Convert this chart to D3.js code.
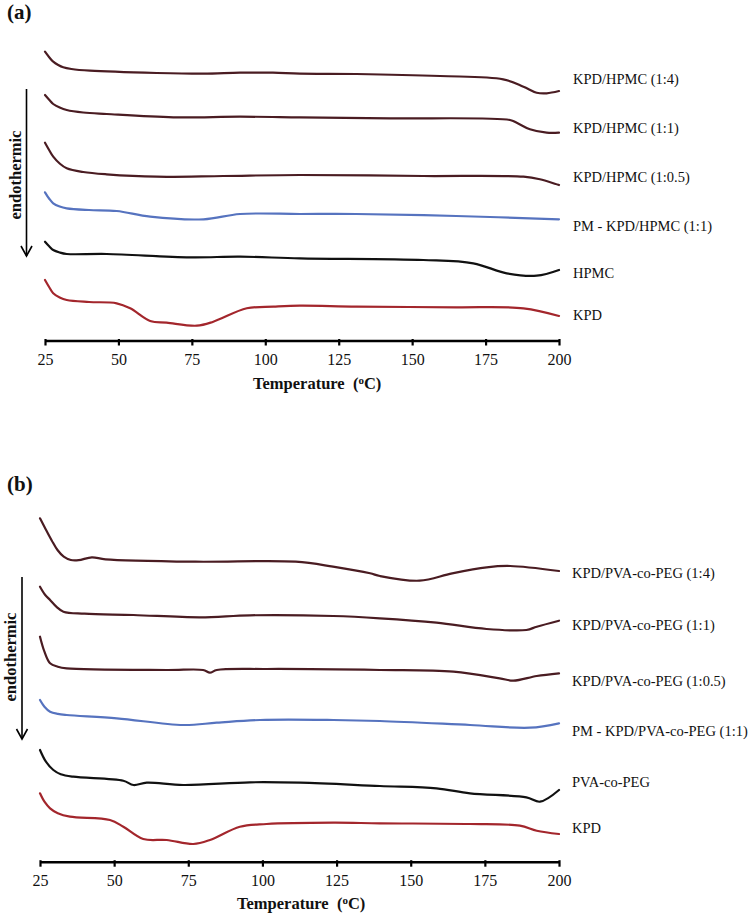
<!DOCTYPE html>
<html><head><meta charset="utf-8">
<script src="https://cdn.jsdelivr.net/npm/d3@7"></script>
<style>body{margin:0;background:#fff}svg{display:block}</style>
</head><body>
<svg id="c" width="750" height="916"></svg>
<script>
// ---------- data ----------
const xTicks = [25, 50, 75, 100, 125, 150, 175, 200];
const seriesColors = ["#4a1c22", "#4a1c22", "#4a1c22", "#5673bf", "#111111", "#a3262c"];

const labelsA = ["KPD/HPMC (1:4)", "KPD/HPMC (1:1)", "KPD/HPMC (1:0.5)", "PM - KPD/HPMC (1:1)", "HPMC", "KPD"];
const labelsB = ["KPD/PVA-co-PEG (1:4)", "KPD/PVA-co-PEG (1:1)", "KPD/PVA-co-PEG (1:0.5)", "PM - KPD/PVA-co-PEG (1:1)", "PVA-co-PEG", "KPD"];
// heat flow (arbitrary units, offset traces) at which each label sits
const labelLevelA = [261.5, 212.5, 163.5, 114.5, 67.5, 25.5];
const labelLevelB = [288.7, 236.7, 180.7, 130.7, 79.7, 33.7];

// Panel (a): [temperature °C, heat flow a.u.]
const kpdHpmc14 = [[25,288.8],[26.5,283],[27.8,278.8],[29.5,275.5],[31.2,273.2],[34,271.5],[40.3,269.8],[63,267.5],[79,266.8],[91.4,267.8],[102.6,267.8],[111.8,266.8],[131,266.5],[159.5,264.5],[181,261.2],[187.9,253.8],[192.4,247.8],[195.8,247.2],[200,249.5]];
const kpdHpmc11 = [[25,245.5],[26.5,240.5],[27.8,236.5],[30,233],[32.4,230.5],[38,228],[46,226.5],[68.7,223.2],[91.4,223.8],[111.8,223.2],[142.5,222.2],[183.3,220.5],[185.6,217.8],[190.1,211.2],[195.8,207.8],[200,207.8]];
const kpdHpmc105 = [[25,197.8],[26.5,190],[27.8,183.8],[30,177],[32.4,172.2],[38,168.5],[46,166.2],[63,163.8],[85.7,164.5],[111.8,165.5],[153.8,164.5],[187.9,163.8],[193.5,161.2],[200,155.5]];
const pmKpdHpmc = [[25,148.2],[26.5,141.5],[27.8,137.2],[30,134],[32.4,132.2],[40,130.5],[49.4,129.5],[60.8,123.8],[79,121.2],[91.4,126.5],[111.8,126.5],[131,126.5],[165,124.5],[200,121.2]];
const hpmc = [[25,98.8],[26.5,94],[27.8,90.5],[30,88],[32.4,86.5],[46,86.5],[74.4,83.2],[91.4,83.8],[111.8,82.2],[153.8,80.5],[170.8,77.2],[182.2,67.2],[192.4,64.8],[200,70.5]];
const kpdA = [[25,60.5],[26.5,53],[27.8,47.2],[30,43],[32.4,40.5],[40,38.5],[49.4,37.2],[54,32.2],[60.8,19.5],[66.4,17.8],[76.7,14.8],[82.3,18.8],[93.7,32.2],[102.8,33.8],[111.8,34.8],[131,33.8],[165,33.2],[187.9,32.2],[200,24.5]];

// Panel (b)
const kpdPva14 = [[25,343.4],[27,332],[29,321],[30.9,311.7],[33,305],[35.4,301.7],[38,301.5],[42.5,304.4],[47.1,302.4],[77.4,300],[111.2,300],[123.8,295],[136.3,288.4],[139.6,285.7],[153,281],[164,288.4],[175.6,294.4],[183.5,295.7],[200,290.7]];
const kpdPva11 = [[25,275],[26.7,267],[28.4,261.7],[30.5,255],[32.9,250],[40,248],[56.5,246.7],[79,244.4],[95.8,246.4],[123.9,245.7],[139.6,243.4],[158.7,239],[175.6,232.7],[189,231.7],[192.5,235],[200,241]];
const kpdPva105 = [[25,225],[26.5,210],[28.4,198.4],[31,195],[34,193.4],[67.7,191.7],[80,191.7],[82.3,189],[84.6,191.7],[101.4,192.7],[139.6,191.7],[164.4,190],[180,183.4],[184.6,181],[192.5,185.7],[200,188.4]];
const pmKpdPva = [[25,161.7],[26.5,155],[28.4,150],[31,147.8],[34,146.7],[50.9,143.4],[73.3,136.7],[84.6,139],[99.2,141.7],[123.9,141.7],[139.6,140.7],[170,136.7],[190.2,134],[200,138.4]];
const pvaPeg = [[25,111.7],[27,100],[29.5,91.7],[32,87.5],[36.2,85],[53.1,81],[56.5,76.7],[61,79],[73.3,76.7],[95.8,79.4],[112.7,79],[139.6,75.7],[158.7,73.4],[170,68.4],[189,64.4],[193.6,60],[200,71.7]];
const kpdB = [[25,68.4],[26.5,60],[28.4,53.4],[31,48.5],[35.1,45],[48.6,41.7],[53.1,35],[59.8,22.7],[67.7,21.7],[76.7,17.7],[82.3,21.7],[92.4,35],[101.4,37.7],[123.9,39],[139.6,38.4],[170,37.7],[186.8,36],[192.5,31],[200,27.7]];

// ---------- drawing ----------
const svg = d3.select("#c");
const serif = "'Liberation Serif','Times New Roman',Times,serif";

function drawPanel(p) {
  const g = svg.append("g");
  const x = d3.scaleLinear().domain([25, 200]).range([p.x0, p.x1]);
  const y = d3.scaleLinear().domain([0, 100]).range([p.axisY, p.axisY - 100]);
  const line = d3.line().x(d => x(d[0])).y(d => y(d[1])).curve(d3.curveCatmullRom.alpha(0.5));

  p.series.forEach((s, i) => {
    g.append("path").datum(s).attr("d", line)
      .attr("fill", "none").attr("stroke", seriesColors[i])
      .attr("stroke-width", 2.2).attr("stroke-linejoin", "round").attr("stroke-linecap", "round");
    g.append("text").attr("x", p.labelX).attr("y", y(p.labelLevels[i])).attr("dy", "0.35em")
      .attr("font-family", serif).attr("font-size", 14.5).attr("fill", "#111")
      .text(p.labels[i]);
  });

  const ax = g.append("g").attr("transform", `translate(0,${p.axisY})`)
    .call(d3.axisBottom(x).tickValues(xTicks).tickSize(5).tickPadding(8).tickSizeOuter(0));
  ax.select(".domain").attr("stroke", "#000").attr("stroke-width", 2.5);
  ax.selectAll(".tick line").attr("stroke", "#000").attr("stroke-width", 2.2).attr("y1", -1.5);
  ax.selectAll(".tick text").attr("font-family", serif).attr("font-size", 16).attr("fill", "#111");

  const t = g.append("text").attr("x", p.titleX).attr("y", p.titleY)
    .attr("font-family", serif).attr("font-size", 16.5).attr("font-weight", "bold").attr("fill", "#111")
    .attr("xml:space", "preserve");
  t.append("tspan").text("Temperature  (");
  t.append("tspan").attr("font-size", 11).attr("dy", -5).text("o");
  t.append("tspan").attr("dy", 5).text("C)");

  g.append("text").attr("x", 7).attr("y", p.tagY).attr("font-family", serif)
    .attr("font-size", 21).attr("font-weight", "bold").attr("fill", "#111").text(p.tag);

  // endothermic arrow
  g.append("line").attr("x1", p.arrowX).attr("x2", p.arrowX).attr("y1", p.arrowTop).attr("y2", p.arrowBottom)
    .attr("stroke", "#000").attr("stroke-width", 1.6);
  g.append("path").attr("d", `M${p.arrowX - 5.5},${p.arrowBottom - 10}L${p.arrowX},${p.arrowBottom}L${p.arrowX + 5.5},${p.arrowBottom - 10}`)
    .attr("fill", "none").attr("stroke", "#000").attr("stroke-width", 1.6);
  g.append("text").attr("transform", `translate(${p.arrowX - 6},${p.textMid}) rotate(-90)`)
    .attr("text-anchor", "middle").attr("font-family", serif).attr("font-size", 16.5)
    .attr("font-weight", "bold").attr("fill", "#111").text("endothermic");
}

drawPanel({
  x0: 45, x1: 559, axisY: 340.5,
  series: [kpdHpmc14, kpdHpmc11, kpdHpmc105, pmKpdHpmc, hpmc, kpdA],
  labels: labelsA, labelLevels: labelLevelA, labelX: 573,
  titleX: 253, titleY: 389, tag: "(a)", tagY: 19,
  arrowX: 26.5, arrowTop: 89, arrowBottom: 256, textMid: 175
});
drawPanel({
  x0: 40, x1: 559, axisY: 861.7,
  series: [kpdPva14, kpdPva11, kpdPva105, pmKpdPva, pvaPeg, kpdB],
  labels: labelsB, labelLevels: labelLevelB, labelX: 572,
  titleX: 237, titleY: 909, tag: "(b)", tagY: 491,
  arrowX: 22, arrowTop: 577, arrowBottom: 739, textMid: 657
});
</script>
</body></html>
